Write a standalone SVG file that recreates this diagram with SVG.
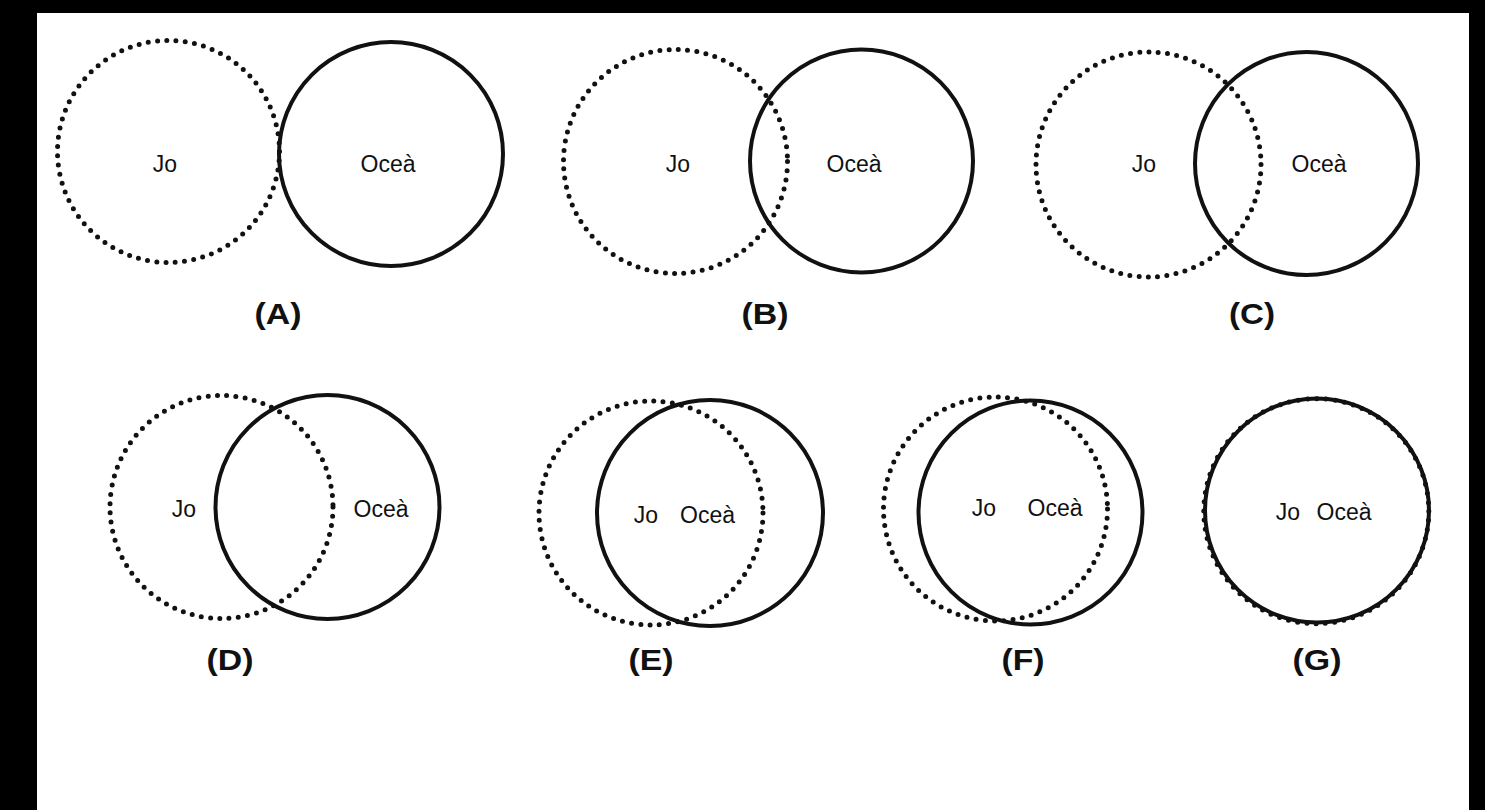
<svg xmlns="http://www.w3.org/2000/svg" width="1485" height="810" viewBox="0 0 1485 810">
<style>
.dot{fill:none;stroke:#111;stroke-width:5;stroke-linecap:round;stroke-dasharray:0 9.3}
.sol{fill:none;stroke:#111;stroke-width:4}
.lbl{font-family:"Liberation Sans",Arial,sans-serif;font-size:23px;fill:#111;text-anchor:middle}
.cap{font-family:"Liberation Sans",Arial,sans-serif;font-size:30px;font-weight:bold;fill:#111;text-anchor:middle}
</style>
<rect x="0" y="0" width="1485" height="810" fill="#000"/>
<rect x="37" y="13" width="1432" height="797" fill="#fff"/>
<g id="panelA">
<circle class="dot" cx="168.5" cy="151.5" r="111"/>
<circle class="sol" cx="391" cy="154" r="112"/>
<text class="lbl" x="165" y="172">Jo</text>
<text class="lbl" x="388" y="172">Oceà</text>
<text class="cap" x="278" y="324" textLength="47" lengthAdjust="spacingAndGlyphs">(A)</text>
</g>
<g id="panelB">
<circle class="dot" cx="675.5" cy="161.5" r="112"/>
<circle class="sol" cx="861.5" cy="161" r="111.5"/>
<text class="lbl" x="678" y="172">Jo</text>
<text class="lbl" x="854" y="172">Oceà</text>
<text class="cap" x="765" y="324" textLength="47" lengthAdjust="spacingAndGlyphs">(B)</text>
</g>
<g id="panelC">
<circle class="dot" cx="1148.5" cy="164.5" r="112.5"/>
<circle class="sol" cx="1306.5" cy="163.5" r="111.5"/>
<text class="lbl" x="1144" y="172">Jo</text>
<text class="lbl" x="1319" y="172">Oceà</text>
<text class="cap" x="1252" y="324" textLength="46" lengthAdjust="spacingAndGlyphs">(C)</text>
</g>
<g id="panelD">
<circle class="dot" cx="221.5" cy="507" r="111.5"/>
<circle class="sol" cx="327.5" cy="507" r="112"/>
<text class="lbl" x="184" y="517">Jo</text>
<text class="lbl" x="381" y="517">Oceà</text>
<text class="cap" x="230" y="670" textLength="47" lengthAdjust="spacingAndGlyphs">(D)</text>
</g>
<g id="panelE">
<circle class="dot" cx="651" cy="513" r="112"/>
<circle class="sol" cx="710" cy="513" r="113"/>
<text class="lbl" x="646" y="523">Jo</text>
<text class="lbl" x="707.5" y="523">Oceà</text>
<text class="cap" x="651" y="670" textLength="45" lengthAdjust="spacingAndGlyphs">(E)</text>
</g>
<g id="panelF">
<circle class="dot" cx="995.5" cy="509" r="112"/>
<circle class="sol" cx="1030.5" cy="512.5" r="112"/>
<text class="lbl" x="984" y="516">Jo</text>
<text class="lbl" x="1055" y="516">Oceà</text>
<text class="cap" x="1023" y="670" textLength="43" lengthAdjust="spacingAndGlyphs">(F)</text>
</g>
<g id="panelG">
<circle class="dot" cx="1316.3" cy="511.2" r="112.5"/>
<circle class="sol" cx="1317" cy="510.5" r="112"/>
<text class="lbl" x="1288" y="520">Jo</text>
<text class="lbl" x="1344" y="520">Oceà</text>
<text class="cap" x="1317" y="670" textLength="49" lengthAdjust="spacingAndGlyphs">(G)</text>
</g>
<g id="connectors"/>
</svg>
